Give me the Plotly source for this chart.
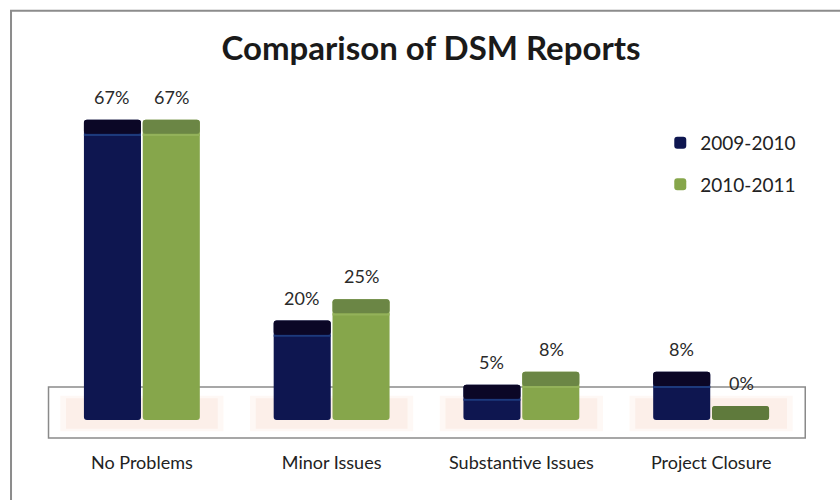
import plotly.graph_objects as go

categories = ["No Problems", "Minor Issues", "Substantive Issues", "Project Closure"]
series_names = ["2009-2010", "2010-2011"]
values_2009 = [67, 20, 5, 8]
values_2010 = [67, 25, 8, 0]

F = 3.3  # 3D floor / top-face depth in axis units (style)

main_colors = ["#0e1650", "#86a64b"]
cap_colors = ["#0b0726", "#6b8645"]
line_colors = ["#1d3a7c", "#93b25a"]
zero_cap_green = "#5f7a3c"
FONT = "Lato, Open Sans, sans-serif"

fig = go.Figure()
series = [values_2009, values_2010]
for k, (name, vals) in enumerate(zip(series_names, series)):
    og = "g%d" % k
    fig.add_trace(go.Bar(
        x=categories, y=[v + F for v in vals], base=[-F] * len(vals),
        name=name, offsetgroup=og, legendgroup=og,
        marker=dict(color=main_colors[k], line=dict(width=0), cornerradius=3),
        hoverinfo="skip"))
    fig.add_trace(go.Bar(
        x=categories, y=[0.5 if v > 0 else 0 for v in vals], base=[v - F - 0.5 for v in vals],
        offsetgroup=og, showlegend=False,
        marker=dict(color=line_colors[k], line=dict(width=0)),
        hoverinfo="skip"))
    fig.add_trace(go.Bar(
        x=categories, y=[F] * len(vals), base=[v - F for v in vals],
        offsetgroup=og, showlegend=False,
        marker=dict(color=[cap_colors[k] if (v > 0 or k == 0) else zero_cap_green for v in vals],
                    line=dict(width=0), cornerradius=3),
        hoverinfo="skip"))

# value labels
annotations = []
for k, vals in enumerate(series):
    for c, v in zip(categories, vals):
        annotations.append(dict(
            x=c, y=v, text=f"{v}%", showarrow=False,
            xshift=-30 if k == 0 else 30, yshift=23, yanchor="middle",
            font=dict(family=FONT, size=18, color="#2a2a2a")))

shapes = []
# outer border (left + top)
shapes.append(dict(type="path", xref="paper", yref="paper",
                   path="M -0.0474,-0.3 L -0.0474,1.19 L 1.1,1.19",
                   line=dict(color="#8c8c8c", width=2), layer="below"))
# pink shadows under groups
for i in range(len(categories)):
    shapes.append(dict(type="rect", xref="x", yref="y", x0=i - 0.43, x1=i + 0.43, y0=-5.9, y1=2.4,
                       fillcolor="#fef8f5", line=dict(width=0), layer="below"))
    shapes.append(dict(type="rect", xref="x", yref="y", x0=i - 0.40, x1=i + 0.40, y0=-5.3, y1=1.8,
                       fillcolor="#fcefe9", line=dict(width=0), layer="below"))
# floor box
shapes.append(dict(type="rect", xref="paper", yref="y", x0=0.002, x1=0.999, y0=-7.5, y1=4.45,
                   fillcolor="rgba(0,0,0,0)", line=dict(color="#8a8a8a", width=1.5), layer="below"))

fig.update_layout(
    width=840, height=500,
    margin=dict(l=47, r=34, t=80, b=55),
    paper_bgcolor="white", plot_bgcolor="white",
    barmode="group", bargap=0.38, bargroupgap=0.03,
    title=dict(text="<b>Comparison of DSM Reports</b>", x=431 / 840, xanchor="center", xref="container",
               y=1 - 48 / 500, yanchor="middle", yref="container",
               font=dict(family=FONT, size=33, color="#1a1a1a")),
    xaxis=dict(showgrid=False, zeroline=False, showline=False, ticks="",
               tickfont=dict(family=FONT, size=18, color="#222222"),
               ticklabelstandoff=5),
    yaxis=dict(range=[-9.13, 76.3], visible=False, showgrid=False, zeroline=False),
    legend=dict(x=0.808, y=0.88, xanchor="left", yanchor="top", tracegroupgap=14,
                font=dict(family=FONT, size=19, color="#222222"),
                bgcolor="rgba(0,0,0,0)"),
    shapes=shapes, annotations=annotations,
    showlegend=True,
)

fig.write_html("out.html")
